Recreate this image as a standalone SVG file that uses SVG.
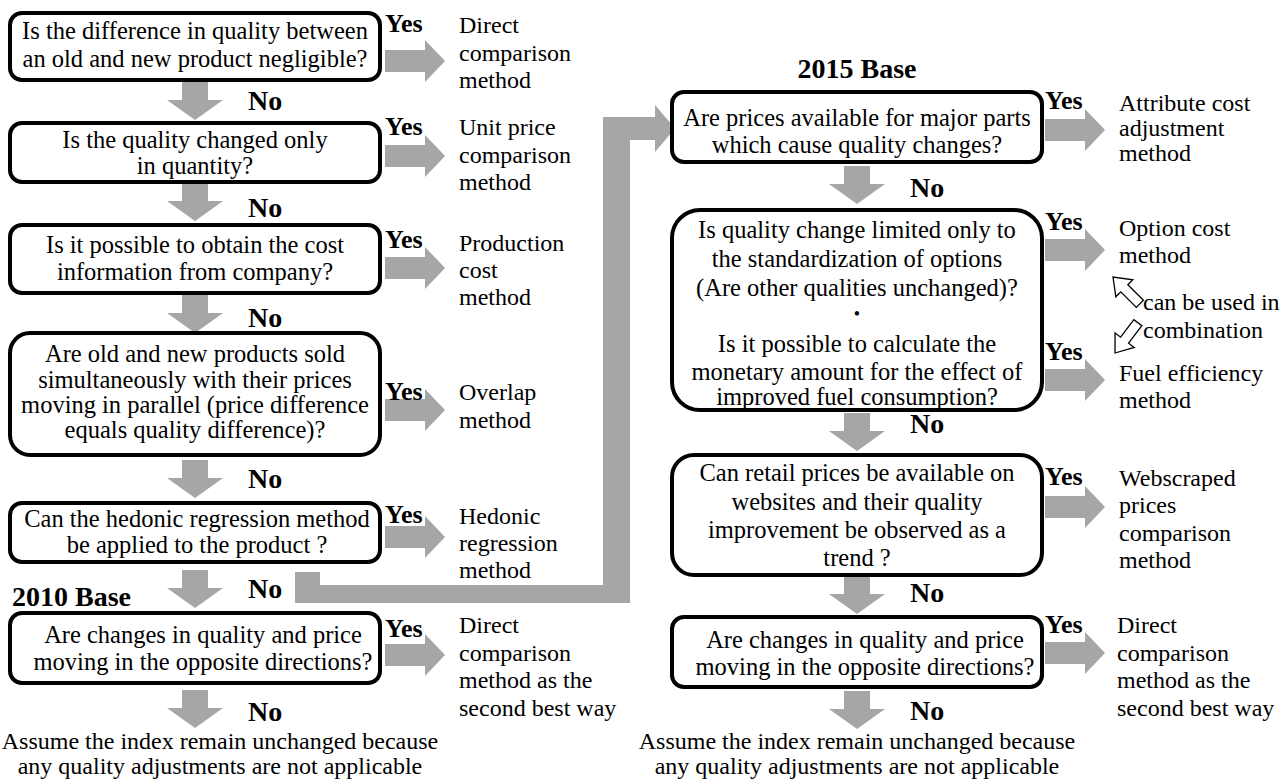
<svg xmlns="http://www.w3.org/2000/svg" width="1281" height="781" viewBox="0 0 1281 781">
<style>
text{font-family:"Liberation Serif","Times New Roman",serif;fill:#000}
.q{font-size:24.5px;text-anchor:middle}
.f{font-size:24px;text-anchor:middle}
.m{font-size:24px}
.y{font-size:26px;font-weight:bold}
.n{font-size:28px;font-weight:bold}
.box{fill:#fff;stroke:#000;stroke-width:4}
.arr{fill:#a6a6a6}
.hol{fill:#fff;stroke:#000;stroke-width:1.3}
</style>
<defs>
<polygon id="ra" class="arr" points="0,-11 40,-11 40,-21 60,0 40,21 40,11 0,11"/>
<polygon id="da" class="arr" points="-13,0 13,0 13,18 28,18 0,38 -28,18 -13,18"/>
<polygon id="ha" class="hol" points="0,0 -16,-12 -16,-5 -38,-5 -38,5 -16,5 -16,12"/>
</defs>
<rect width="1281" height="781" fill="#fff"/>

<g id="connectors">
<use href="#ra" x="385" y="61"/>
<use href="#ra" x="385" y="156"/>
<use href="#ra" x="385" y="268"/>
<use href="#ra" x="385" y="410"/>
<use href="#ra" x="385" y="537"/>
<use href="#ra" x="385" y="655"/>
<use href="#da" x="195" y="82"/>
<use href="#da" x="195" y="183"/>
<use href="#da" x="195" y="295"/>
<use href="#da" x="195" y="460"/>
<use href="#da" x="195" y="570"/>
<use href="#da" x="195" y="690"/>
<polygon class="arr" points="295,572 320,572 320,585 603,585 603,117 655,117 655,105 675,128.5 655,152 655,140 630,140 630,603 295,603"/>
<use href="#ra" x="1045" y="130"/>
<use href="#ra" x="1045" y="250"/>
<use href="#ra" x="1045" y="380"/>
<use href="#ra" x="1045" y="507"/>
<use href="#ra" x="1045" y="653"/>
<use href="#da" x="857" y="166"/>
<use href="#da" x="857" y="413"/>
<use href="#da" x="857" y="576"/>
<use href="#da" x="857" y="691"/>
<use href="#ha" transform="translate(1113,277) rotate(-135)"/>
<use href="#ha" transform="translate(1115,353) rotate(127)"/>
</g>

<g id="labels">
<text class="y" x="385" y="32">Yes</text>
<text class="y" x="385" y="135">Yes</text>
<text class="y" x="385" y="248">Yes</text>
<text class="y" x="385" y="400">Yes</text>
<text class="y" x="385" y="523">Yes</text>
<text class="y" x="385" y="637">Yes</text>
<text class="n" x="248" y="110">No</text>
<text class="n" x="248" y="217">No</text>
<text class="n" x="248" y="327">No</text>
<text class="n" x="248" y="488">No</text>
<text class="n" x="248" y="598">No</text>
<text class="n" x="248" y="721">No</text>
<text class="n" x="12" y="606">2010 Base</text>
<text class="n" x="857" y="78" text-anchor="middle">2015 Base</text>
<text class="y" x="1045" y="109">Yes</text>
<text class="y" x="1045" y="230">Yes</text>
<text class="y" x="1045" y="360">Yes</text>
<text class="y" x="1045" y="485">Yes</text>
<text class="y" x="1045" y="633">Yes</text>
<text class="n" x="910" y="197">No</text>
<text class="n" x="910" y="433">No</text>
<text class="n" x="910" y="602">No</text>
<text class="n" x="910" y="720">No</text>
</g>

<g id="q1"><rect class="box" x="10" y="13" width="370" height="67" rx="12"/>
<text class="q" x="195" y="39">Is the difference in quality between</text>
<text class="q" x="195" y="67">an old and new product negligible?</text></g>
<g id="q2"><rect class="box" x="10" y="123" width="370" height="59" rx="12"/>
<text class="q" x="195" y="148">Is the quality changed only</text>
<text class="q" x="195" y="174">in quantity?</text></g>
<g id="q3"><rect class="box" x="10" y="225" width="370" height="68" rx="12"/>
<text class="q" x="195" y="253">Is it possible to obtain the cost</text>
<text class="q" x="195" y="280">information from company?</text></g>
<g id="q4"><rect class="box" x="10" y="333" width="370" height="122" rx="20"/>
<text class="q" x="195" y="362">Are old and new products sold</text>
<text class="q" x="195" y="388">simultaneously with their prices</text>
<text class="q" x="195" y="413">moving in parallel (price difference</text>
<text class="q" x="195" y="438">equals quality difference)?</text></g>
<g id="q5"><rect class="box" x="10" y="503" width="370" height="59" rx="12"/>
<text class="q" x="197" y="527">Can the hedonic regression method</text>
<text class="q" x="197" y="553">be applied to the product ?</text></g>
<g id="q6"><rect class="box" x="10" y="613" width="370" height="70" rx="12"/>
<text class="q" x="203" y="643">Are changes in quality and price</text>
<text class="q" x="203" y="670">moving in the opposite directions?</text></g>
<g id="end1">
<text class="f" x="220" y="749">Assume the index remain unchanged because</text>
<text class="f" x="220" y="774">any quality adjustments are not applicable</text></g>

<g id="m1"><text class="m" x="459" y="33">Direct</text><text class="m" x="459" y="61">comparison</text><text class="m" x="459" y="88">method</text></g>
<g id="m2"><text class="m" x="459" y="135">Unit price</text><text class="m" x="459" y="163">comparison</text><text class="m" x="459" y="190">method</text></g>
<g id="m3"><text class="m" x="459" y="251">Production</text><text class="m" x="459" y="278">cost</text><text class="m" x="459" y="305">method</text></g>
<g id="m4"><text class="m" x="459" y="400">Overlap</text><text class="m" x="459" y="428">method</text></g>
<g id="m5"><text class="m" x="459" y="524">Hedonic</text><text class="m" x="459" y="551">regression</text><text class="m" x="459" y="578">method</text></g>
<g id="m6"><text class="m" x="459" y="633">Direct</text><text class="m" x="459" y="661">comparison</text><text class="m" x="459" y="688">method as the</text><text class="m" x="459" y="716">second best way</text></g>

<g id="r1"><rect class="box" x="672" y="92" width="370" height="70" rx="12"/>
<text class="q" x="857" y="126">Are prices available for major parts</text>
<text class="q" x="857" y="153">which cause quality changes?</text></g>
<g id="r2"><rect class="box" x="672" y="210" width="370" height="200" rx="28"/>
<text class="q" x="857" y="238">Is quality change limited only to</text>
<text class="q" x="857" y="267">the standardization of options</text>
<text class="q" x="857" y="296">(Are other qualities unchanged)?</text>
<text class="q" x="857" y="320" style="font-size:18px">•</text>
<text class="q" x="857" y="352">Is it possible to calculate the</text>
<text class="q" x="857" y="380">monetary amount for the effect of</text>
<text class="q" x="857" y="405">improved fuel consumption?</text></g>
<g id="r3"><rect class="box" x="672" y="455" width="370" height="120" rx="22"/>
<text class="q" x="857" y="481">Can retail prices be available on</text>
<text class="q" x="857" y="510">websites and their quality</text>
<text class="q" x="857" y="538">improvement be observed as a</text>
<text class="q" x="857" y="566">trend ?</text></g>
<g id="r4"><rect class="box" x="672" y="617" width="370" height="70" rx="12"/>
<text class="q" x="865" y="648">Are changes in quality and price</text>
<text class="q" x="865" y="675">moving in the opposite directions?</text></g>
<g id="end2">
<text class="f" x="857" y="749">Assume the index remain unchanged because</text>
<text class="f" x="857" y="774">any quality adjustments are not applicable</text></g>

<g id="n1"><text class="m" x="1119" y="111">Attribute cost</text><text class="m" x="1119" y="136">adjustment</text><text class="m" x="1119" y="161">method</text></g>
<g id="n2"><text class="m" x="1119" y="236">Option cost</text><text class="m" x="1119" y="263">method</text></g>
<g id="n3"><text class="m" x="1143" y="310">can be used in</text><text class="m" x="1143" y="338">combination</text></g>
<g id="n4"><text class="m" x="1119" y="381">Fuel efficiency</text><text class="m" x="1119" y="408">method</text></g>
<g id="n5"><text class="m" x="1119" y="486">Webscraped</text><text class="m" x="1119" y="513">prices</text><text class="m" x="1119" y="541">comparison</text><text class="m" x="1119" y="568">method</text></g>
<g id="n6"><text class="m" x="1117" y="633">Direct</text><text class="m" x="1117" y="661">comparison</text><text class="m" x="1117" y="688">method as the</text><text class="m" x="1117" y="716">second best way</text></g>
</svg>
